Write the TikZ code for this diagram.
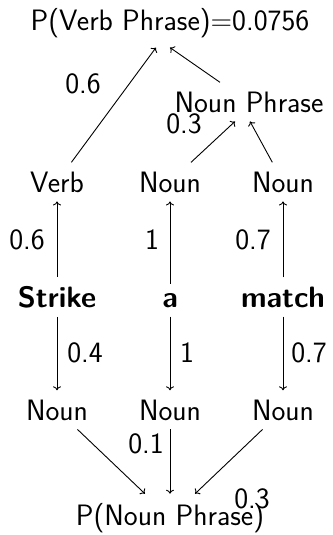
\documentclass[tikz,border=0pt]{standalone}
\usepackage{fontspec}
\usetikzlibrary{arrows.meta}
\newcommand{\diagfont}{\sffamily\fontsize{29.5}{35}\selectfont}
\begin{document}
\begin{tikzpicture}[x=1pt,y=-1pt,
  every node/.style={font=\diagfont},
  word/.style={anchor=base,inner sep=9pt},
  bold word/.style={word,font=\diagfont\bfseries},
  prob/.style={anchor=base,inner sep=0pt},
  edge/.style={line width=0.9pt,-{To[length=4pt,width=8pt]}}]
\useasboundingbox (0,0) rectangle (332,535);
% top result and the noun phrase
\node[word] (top) at (170,31) {P(Verb Phrase)=0.0756};
\node[word] (np) at (249,112) {Noun Phrase};
% tags above the words
\node[word] (verb) at (57,192) {Verb};
\node[word] (n1) at (170,192) {Noun};
\node[word] (n2) at (283,192) {Noun};
% the sentence
\node[bold word] (strike) at (57,307) {Strike};
\node[bold word] (a) at (170,307) {a};
\node[bold word] (match) at (283,307) {match};
% tags below the words
\node[word] (b1) at (57,420) {Noun};
\node[word] (b2) at (170,420) {Noun};
\node[word] (b3) at (283,420) {Noun};
\node[word] (bot) at (170,525) {P(Noun Phrase)};
% connectors
\draw[edge] (verb) -- ([xshift=-14pt]top.south);
\draw[edge] ([xshift=-29pt]np.north) -- (top.south);
\draw[edge] (n1) -- ([xshift=-14pt]np.south);
\draw[edge] (n2) -- ([xshift=1pt]np.south);
\draw[edge] (strike) -- (verb);
\draw[edge] (a) -- (n1);
\draw[edge] (match) -- (n2);
\draw[edge] (strike) -- (b1);
\draw[edge] (a) -- (b2);
\draw[edge] (match) -- (b3);
\draw[edge] (b1) -- (bot);
\draw[edge] (b2) -- (bot);
\draw[edge] (b3) -- (bot);
% probabilities
\node[prob] (p1) at (83,93) {0.6};
\node[prob] (p2) at (184,133) {0.3};
\node[prob] (p3) at (27,249) {0.6};
\node[prob] (p4) at (152,249) {1};
\node[prob] (p5) at (253,249) {0.7};
\node[prob] (p6) at (85,362) {0.4};
\node[prob] (p7) at (187,362) {1};
\node[prob] (p8) at (309,362) {0.7};
\node[prob] (p9) at (146,453) {0.1};
\node[prob] (p10) at (252,508) {0.3};
\end{tikzpicture}
\end{document}
